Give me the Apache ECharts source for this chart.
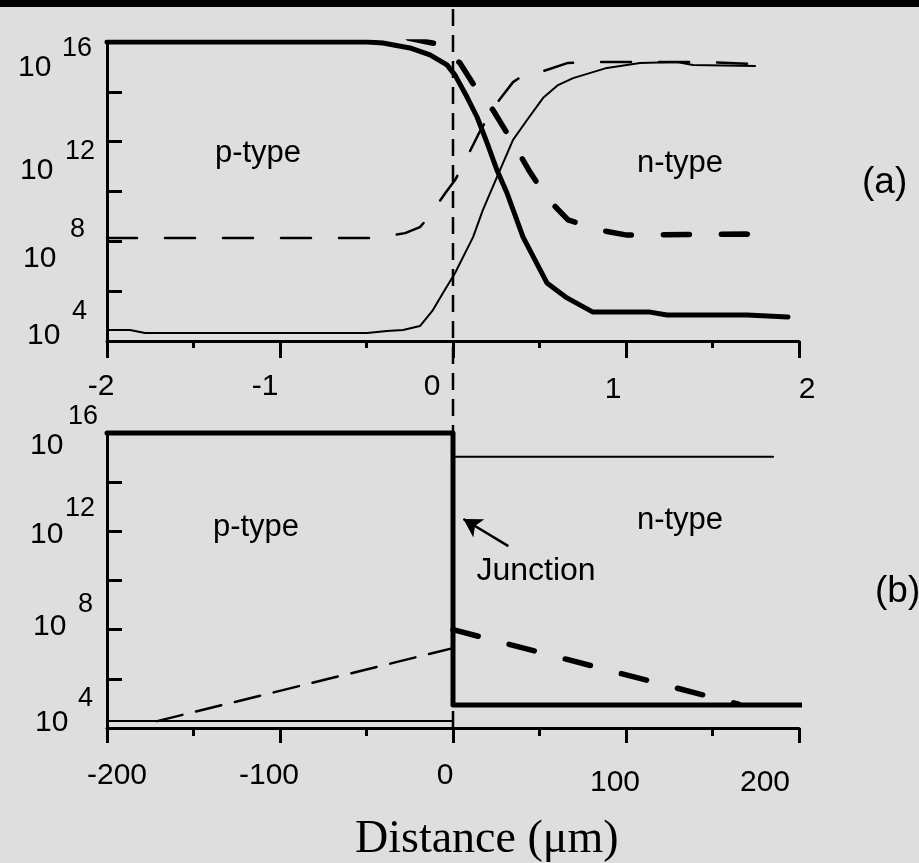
<!DOCTYPE html>
<html><head><meta charset="utf-8">
<script src="https://cdn.jsdelivr.net/npm/echarts@6/dist/echarts.min.js"></script>
<style>html,body{margin:0;padding:0;background:#dedede;} #c{width:919px;height:863px;}</style>
</head><body><div id="c"></div>
<script>
// ---- Panel (a): graded junction, x in µm, y = log10(concentration) ----
const aHoleX = [-2, -0.497, -0.405, -0.249, -0.133, -0.035, 0.012, 0.081, 0.139, 0.197, 0.254, 0.312, 0.405, 0.543, 0.659, 0.809, 1.139, 1.237, 1.699, 1.936];
const aHoleY = [16.0, 16.0, 15.96, 15.76, 15.48, 15.08, 14.67, 13.79, 12.99, 11.95, 10.86, 9.94, 8.17, 6.33, 5.73, 5.16, 5.16, 5.04, 5.04, 4.96];

const aElecX = [-2, -1.867, -1.78, -0.497, -0.382, -0.289, -0.191, -0.116, -0.058, 0.012, 0.116, 0.173, 0.254, 0.347, 0.428, 0.520, 0.607, 0.694, 0.890, 1.081, 1.295, 1.387, 1.746];
const aElecY = [4.44, 4.44, 4.32, 4.32, 4.40, 4.44, 4.60, 5.24, 5.93, 6.73, 8.17, 9.26, 10.58, 12.07, 12.87, 13.75, 14.27, 14.55, 14.96, 15.16, 15.20, 15.08, 15.04];

const aThinDashX = [-2, -0.451, -0.277, -0.191, -0.145, -0.040, 0.012, 0.058, 0.145, 0.231, 0.347, 0.434, 0.503, 0.665, 0.832, 1.012, 1.428, 1.746];
const aThinDashY = [8.13, 8.13, 8.33, 8.57, 8.94, 9.98, 10.46, 11.06, 12.27, 13.35, 14.39, 14.79, 14.79, 15.16, 15.20, 15.20, 15.20, 15.12];

const aThickDashX = [-0.260, -0.092, 0.040, 0.139, 0.231, 0.347, 0.445, 0.543, 0.665, 0.850, 1.006, 1.699, 1.873];
const aThickDashY = [16.16, 15.92, 15.16, 14.07, 13.27, 11.95, 10.78, 9.74, 8.86, 8.45, 8.25, 8.29, 8.13];

// ---- Panel (b): abrupt junction, x in µm ----
const bHoleX = [-200, 0, 0, 205];
const bHoleY = [16, 16, 4.94, 4.94];
const bElecNX = [0, 185];
const bElecNY = [15.03, 15.03];
const bElecPX = [-200, 0];
const bElecPY = [4.28, 4.28];
const bMinPX = [-171, 0];
const bMinPY = [4.28, 7.25];
const bMinNX = [0, 165];
const bMinNY = [8.0, 4.97];
const arrowFrom = [32, 11.4];
const arrowTo = [6, 12.5];

// junction position
const junctionX = [0, 0];
const junctionY = [0, 1];

// tick labels
const yTickExpA = ['16', '12', '8', '4'];
const yTickValA = [16, 12, 8, 4];
const yTickExpB = ['16', '12', '8', '4'];
const yTickValB = [16, 12, 8, 4];
const xTickA = [-2, -1, 0, 1, 2];
const xTickB = [-200, -100, 0, 100, 200];

const texts = { pA: 'p-type', nA: 'n-type', pB: 'p-type', nB: 'n-type', junc: 'Junction', a: '(a)', b: '(b)', xTitle: 'Distance (μm)' };

const zip = (xs, ys) => xs.map((x, i) => [x, ys[i]]);
const SANS = "'Liberation Sans', Arial, sans-serif";

const chart = echarts.init(document.getElementById('c'), null, { renderer: 'canvas' });

const axisLine = { show: true, onZero: false, lineStyle: { color: '#000', width: 3 } };
function lineSeries(xIdx, yIdx, data, width, dash, z) {
  return {
    type: 'line', xAxisIndex: xIdx, yAxisIndex: yIdx, data: data,
    symbol: 'none', showSymbol: false, silent: true, animation: false, z: z || 3,
    lineStyle: { color: '#000', width: width, type: dash || 'solid', cap: 'round', join: 'round' }
  };
}

const option = {
  backgroundColor: '#dedede',
  animation: false,
  grid: [
    { left: 107, top: 42, width: 692, height: 299 },
    { left: 107, top: 433, width: 692, height: 295 },
    { left: 107, top: 7, width: 692, height: 721 }
  ],
  xAxis: [
    { gridIndex: 0, type: 'value', min: -2, max: 2, interval: 1, axisLine: axisLine,
      axisTick: { show: true, length: 17, lineStyle: { color: '#000', width: 3 } },
      minorTick: { show: true, splitNumber: 2, length: 7, lineStyle: { color: '#000', width: 3 } },
      axisLabel: { show: false }, splitLine: { show: false } },
    { gridIndex: 1, type: 'value', min: -200, max: 200, interval: 100, axisLine: axisLine,
      axisTick: { show: true, length: 15, lineStyle: { color: '#000', width: 3 } },
      minorTick: { show: true, splitNumber: 2, length: 8, lineStyle: { color: '#000', width: 3 } },
      axisLabel: { show: false }, splitLine: { show: false } },
    { gridIndex: 2, type: 'value', min: -2, max: 2, show: false }
  ],
  yAxis: [
    { gridIndex: 0, type: 'value', min: 4, max: 16, interval: 2, axisLine: axisLine,
      axisTick: { show: true, inside: true, length: 15, lineStyle: { color: '#000', width: 3 } },
      axisLabel: { show: false }, splitLine: { show: false } },
    { gridIndex: 1, type: 'value', min: 4, max: 16, interval: 2, axisLine: axisLine,
      axisTick: { show: true, inside: true, length: 15, lineStyle: { color: '#000', width: 3 } },
      axisLabel: { show: false }, splitLine: { show: false } },
    { gridIndex: 2, type: 'value', min: 0, max: 1, show: false }
  ],
  series: [
    Object.assign(lineSeries(2, 2, zip(junctionX, junctionY), 2.5, [17, 9]), { clip: false, z: 2, lineStyle: { color: '#000', width: 2.5, type: [17, 9], cap: 'butt' } }),
    lineSeries(0, 0, zip(aElecX, aElecY), 2),
    lineSeries(0, 0, zip(aThinDashX, aThinDashY), 2.5, [30, 28]),
    lineSeries(0, 0, zip(aHoleX, aHoleY), 5, null, 4),
    lineSeries(0, 0, zip(aThickDashX, aThickDashY), 5.5, [26, 32], 4),
    Object.assign(lineSeries(1, 1, zip(bHoleX, bHoleY), 5, null, 4), { clip: false }),
    lineSeries(1, 1, zip(bElecNX, bElecNY), 2),
    lineSeries(1, 1, zip(bElecPX, bElecPY), 2),
    lineSeries(1, 1, zip(bMinPX, bMinPY), 2.5, [26, 14]),
    Object.assign(lineSeries(1, 1, zip(bMinNX, bMinNY), 5.5, [26, 32], 4), {
      markLine: {
        silent: true, animation: false, symbol: ['none', 'arrow'], symbolSize: [16, 18],
        label: { show: false },
        lineStyle: { color: '#000', width: 2.5, type: 'solid' },
        data: [[{ coord: arrowFrom }, { coord: arrowTo }]]
      }
    })
  ]
};
chart.setOption(option);

// ---- text elements (tick labels, annotations) ----
const g = [];
g.push({ type: 'rect', shape: { x: 0, y: 0, width: 919, height: 7 }, style: { fill: '#000' }, z: 100 });
function txt(x, y, s, size, align, family) {
  g.push({ type: 'text', x: x, y: y, z: 50, silent: true,
    style: { text: s, fill: '#000', font: size + 'px ' + (family || SANS), textAlign: align || 'left', textVerticalAlign: 'middle' } });
}
// y tick labels (a)
const tenDxA = [-89, -87, -84, -80], tenDyA = [26, 29, 17, -5];
const supDxA = [-45, -42, -37, -35], supDyA = [7, 10, -12, -29];
yTickValA.forEach((v, i) => {
  const p = chart.convertToPixel({ gridIndex: 0 }, [-2, v]);
  txt(p[0] + tenDxA[i], p[1] + tenDyA[i], '10', 30);
  txt(p[0] + supDxA[i], p[1] + supDyA[i], yTickExpA[i], 27);
});
// y tick labels (b)
const tenDxB = [-77, -77, -74, -72], tenDyB = [13, 3, -3, -5];
const supDxB = [-39, -42, -29, -29], supDyB = [-16, -23, -25, -29];
yTickValB.forEach((v, i) => {
  const p = chart.convertToPixel({ gridIndex: 1 }, [-200, v]);
  txt(p[0] + tenDxB[i], p[1] + tenDyB[i], '10', 30);
  txt(p[0] + supDxB[i], p[1] + supDyB[i], yTickExpB[i], 27);
});
// x tick labels
const xDxA = [-6, -15, -21, -13, 8], xDyA = [46, 46, 46, 49, 49];
xTickA.forEach((v, i) => {
  const p = chart.convertToPixel({ gridIndex: 0 }, [v, 4]);
  txt(p[0] + xDxA[i], p[1] + xDyA[i], String(v), 30, 'center');
});
const xDxB = [10, -11, -8, -11, -34], xDyB = [48, 48, 48, 55, 55];
xTickB.forEach((v, i) => {
  const p = chart.convertToPixel({ gridIndex: 1 }, [v, 4]);
  txt(p[0] + xDxB[i], p[1] + xDyB[i], String(v), 30, 'center');
});
// annotations
txt(258, 153, texts.pA, 31, 'center');
txt(680, 163, texts.nA, 31, 'center');
txt(256, 527, texts.pB, 31, 'center');
txt(680, 520, texts.nB, 31, 'center');
txt(536, 571, texts.junc, 32, 'center');
txt(862, 183, texts.a, 37, 'left');
txt(875, 592, texts.b, 37, 'left');
txt(355, 840, texts.xTitle, 46, 'left', "'Liberation Serif', 'Times New Roman', serif");

chart.setOption({ graphic: g });
</script>
</body></html>
